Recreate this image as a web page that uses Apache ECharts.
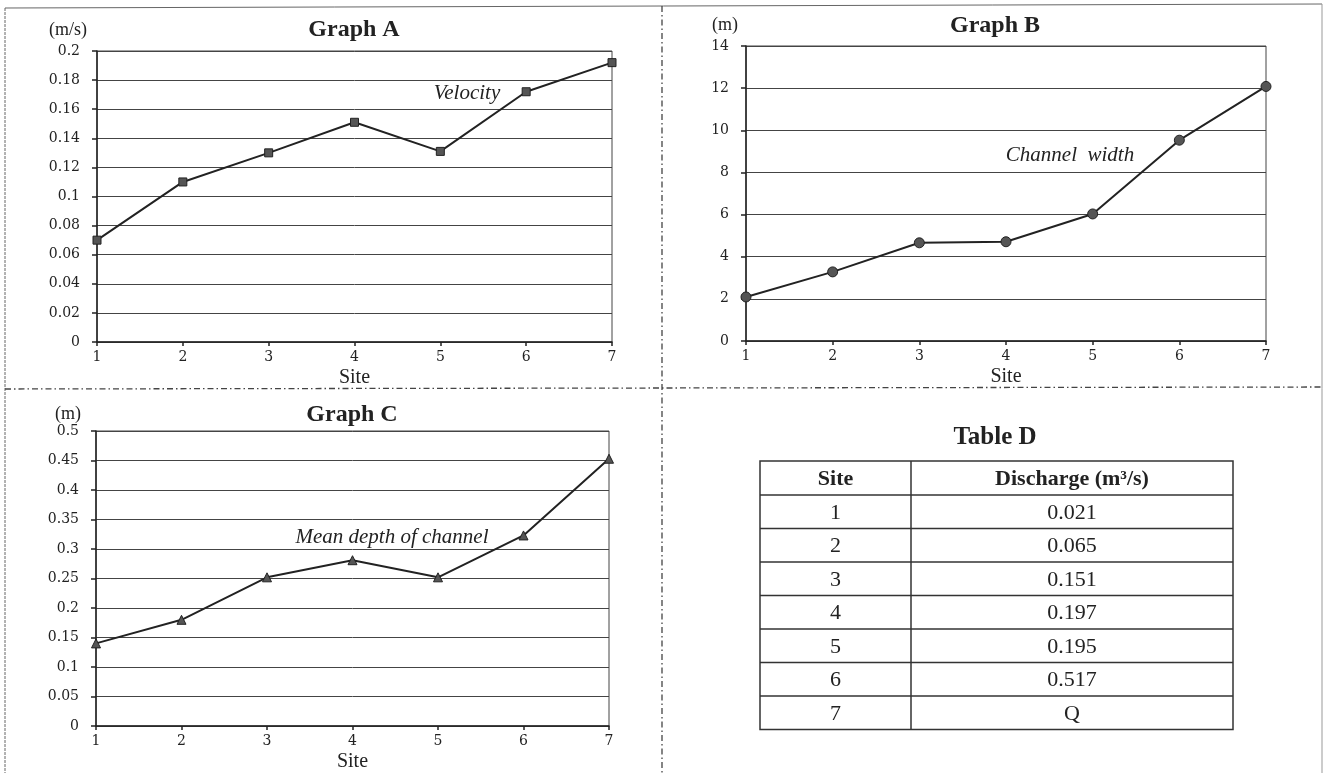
<!DOCTYPE html>
<html>
<head>
<meta charset="utf-8">
<script src="https://cdn.jsdelivr.net/npm/echarts@6/dist/echarts.min.js"></script>
<style>
html,body{margin:0;padding:0;background:#fff;}
#chart{width:1327px;height:773px;}
</style>
</head>
<body>
<div id="chart"></div>
<script>
// ---- data ----
const sites = ['1', '2', '3', '4', '5', '6', '7'];
const velocity = [0.07, 0.11, 0.13, 0.151, 0.131, 0.172, 0.192];
const channelWidth = [2.09, 3.28, 4.66, 4.71, 6.03, 9.53, 12.08];
const meanDepth = [0.14, 0.18, 0.252, 0.281, 0.252, 0.323, 0.453];
const tableSites = ['1', '2', '3', '4', '5', '6', '7'];
const discharge = ['0.021', '0.065', '0.151', '0.197', '0.195', '0.517', 'Q'];
const tableHeader = ['Site', 'Discharge (m³/s)'];
const axisA = {min: 0, max: 0.2, interval: 0.02};
const axisB = {min: 0, max: 14, interval: 2};
const axisC = {min: 0, max: 0.5, interval: 0.05};

// ---- styling ----
const INK = '#222';
const GRID = '#444';
const SERIF = 'Liberation Serif';
const TICKF = 'DejaVu Serif';

const chart = echarts.init(document.getElementById('chart'), null, {renderer: 'canvas'});

function xAx(gi) {
  return {
    type: 'category', gridIndex: gi, data: sites, boundaryGap: false,
    axisLine: {lineStyle: {color: INK, width: 1.5}},
    axisTick: {show: true, length: 4, lineStyle: {color: INK, width: 1.5}},
    axisLabel: {fontFamily: TICKF, fontSize: 14, color: INK, margin: 8},
    splitLine: {show: false},
    name: 'Site', nameLocation: 'middle', nameGap: 26,
    nameTextStyle: {fontFamily: SERIF, fontSize: 20, color: INK}
  };
}
function yAx(gi, r) {
  return {
    type: 'value', gridIndex: gi, min: r.min, max: r.max, interval: r.interval,
    axisLine: {show: true, lineStyle: {color: INK, width: 1.5}},
    axisTick: {show: true, length: 5, lineStyle: {color: INK, width: 1.5}},
    axisLabel: {fontFamily: TICKF, fontSize: 14, color: INK, margin: 17},
    splitLine: {show: true, lineStyle: {color: GRID, width: 1}}
  };
}
function ser(i, data, sym, size) {
  return {
    type: 'line', xAxisIndex: i, yAxisIndex: i, data: data,
    symbol: sym, symbolSize: size, showSymbol: true,
    lineStyle: {color: INK, width: 2},
    itemStyle: {color: '#555', borderColor: INK, borderWidth: 1},
    emphasis: {disabled: true}
  };
}

function txt(x, y, text, size, opts) {
  opts = opts || {};
  return {
    type: 'text', x: x, y: y, z: 10,
    style: {
      text: text, fontFamily: SERIF, fontSize: size,
      fontWeight: opts.bold ? 'bold' : 'normal',
      fontStyle: opts.italic ? 'italic' : 'normal',
      fill: opts.color || INK, align: 'center', verticalAlign: 'middle'
    }
  };
}
function ln(x1, y1, x2, y2, stroke, w, dash) {
  return {
    type: 'line', z: 1,
    shape: {x1: x1, y1: y1, x2: x2, y2: y2},
    style: {stroke: stroke, lineWidth: w, lineDash: dash || null}
  };
}

const graphics = [];
// page frame & dividers
graphics.push(ln(5, 8, 1322, 4, '#666', 1));
graphics.push(ln(5, 8, 5, 773, '#666', 1, [3, 1]));
graphics.push(ln(1322, 4, 1322, 773, '#999', 1));
graphics.push(ln(662, 6, 662, 773, '#444', 1.3, [6, 3, 1.5, 3]));
graphics.push(ln(5, 389, 1322, 387, '#444', 1.3, [6, 3, 1.5, 3]));

// titles, units, annotations
graphics.push(txt(354, 30, 'Graph A', 24, {bold: true}));
graphics.push(txt(995, 26, 'Graph B', 24, {bold: true}));
graphics.push(txt(352, 415, 'Graph C', 24, {bold: true}));
graphics.push(txt(68, 30, '(m/s)', 18));
graphics.push(txt(725, 25, '(m)', 18));
graphics.push(txt(68, 414, '(m)', 18));
graphics.push(txt(467, 93, 'Velocity', 21, {italic: true}));
graphics.push(txt(1070, 155, 'Channel  width', 21, {italic: true}));
graphics.push(txt(392, 537, 'Mean depth of channel', 21, {italic: true}));

// Table D
graphics.push(txt(995, 438, 'Table D', 25, {bold: true}));
const tLeft = 760, tMid = 911, tRight = 1233, tTop = 461, headH = 34, rowH = 33.5;
const tBottom = tTop + headH + rowH * tableSites.length;
graphics.push({type: 'rect', z: 2, shape: {x: tLeft, y: tTop, width: tRight - tLeft, height: tBottom - tTop},
  style: {fill: 'none', stroke: '#333', lineWidth: 1.5}});
graphics.push(ln(tMid, tTop, tMid, tBottom, '#333', 1.5));
graphics.push(txt((tLeft + tMid) / 2, tTop + headH / 2 + 1, tableHeader[0], 22, {bold: true}));
graphics.push(txt((tMid + tRight) / 2, tTop + headH / 2 + 1, tableHeader[1], 22, {bold: true}));
for (let i = 0; i < tableSites.length; i++) {
  const y0 = tTop + headH + rowH * i;
  graphics.push(ln(tLeft, y0, tRight, y0, '#333', 1.5));
  graphics.push(txt((tLeft + tMid) / 2, y0 + rowH / 2 + 1, tableSites[i], 22));
  graphics.push(txt((tMid + tRight) / 2, y0 + rowH / 2 + 1, discharge[i], 22));
}

const option = {
  animation: false,
  backgroundColor: '#fff',
  grid: [
    {left: 97, top: 51, width: 515, height: 291, show: true, borderColor: GRID, borderWidth: 1},
    {left: 746, top: 46, width: 520, height: 295, show: true, borderColor: GRID, borderWidth: 1},
    {left: 96, top: 431, width: 513, height: 301, show: true, borderColor: GRID, borderWidth: 1}
  ],
  xAxis: [xAx(0), xAx(1), xAx(2)],
  yAxis: [yAx(0, axisA), yAx(1, axisB), yAx(2, axisC)],
  series: [
    ser(0, velocity, 'rect', 8),
    ser(1, channelWidth, 'circle', 10),
    ser(2, meanDepth, 'triangle', 9)
  ],
  graphic: graphics
};
chart.setOption(option);
</script>
</body>
</html>
